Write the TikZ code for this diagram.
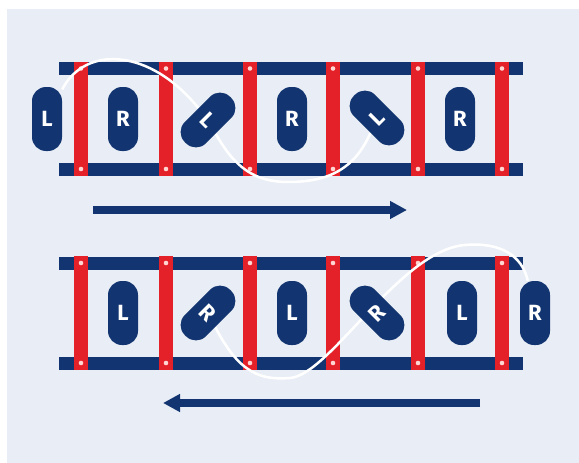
\documentclass[tikz,border=0pt]{standalone}
\usepackage{fontspec}
\setsansfont{Fira Sans}
\usetikzlibrary{shapes,arrows.meta,positioning,backgrounds}
\definecolor{navy}{RGB}{18,52,112}
\definecolor{rungred}{RGB}{228,32,40}
\definecolor{ice}{RGB}{233,238,246}
\definecolor{bolt}{RGB}{255,214,210}

\begin{document}
\begin{tikzpicture}[x=1pt, y=-1pt,
  rail/.style={navy, line width=13pt},
  rung/.style={rungred, line width=14pt},
  foot/.style={rectangle, rounded corners=14pt, fill=navy, inner sep=0pt, minimum width=30pt, minimum height=64pt, text=white, font=\fontsize{22}{22}\sffamily\bfseries},
  lace/.style={white, line width=2.5pt},
  walkarrow/.style={navy, line width=7.5pt, -{Triangle[length=17pt, width=17pt]}}]
\useasboundingbox (0,0) rectangle (579,463);

\node (upL1) [foot] at (47,119) {L};
\node (upR1) [foot] at (123,119) {R};
\node (upL2) [foot, rotate=-45] at (208,120) {L};
\node (upR2) [foot] at (292,119) {R};
\node (upL3) [foot, rotate=45] at (377,118) {L};
\node (upR3) [foot] at (460,119) {R};

\node (lowL1) [foot] at (123,313) {L};
\node (lowR1) [foot, rotate=-45] at (208,313) {R};
\node (lowL2) [foot] at (292,313) {L};
\node (lowR2) [foot, rotate=45] at (377,313) {R};
\node (lowL3) [foot] at (462,313) {L};
\node (lowR3) [foot] at (535,313) {R};

\coordinate (goFrom) at (93,210);
\coordinate (goTo) at (407,210);
\coordinate (backFrom) at (480,403);
\coordinate (backTo) at (163,403);
\draw [walkarrow] (goFrom) -- (goTo);
\draw [walkarrow] (backFrom) -- (backTo);

\begin{pgfonlayer}{background}
\fill [ice] (7,9) rectangle (579,463);
% ladders
\foreach \y in {68.5,169,263,363}
  \draw [rail] (59,\y) -- (523,\y);
\foreach \x in {81,166,250,333,418,502} {
  \draw [rung] (\x,62) -- (\x,176);
  \draw [rung] (\x,256) -- (\x,370);
  \foreach \y in {68.5,169,263,363}
    \fill [bolt] (\x,\y) circle (2.3pt);
}
% lace
\draw [lace] (upL1) .. controls (85,45) and (150,48) .. (upL2);
\draw [lace] (upL2) .. controls (235,168) and (255,182) .. (288,182)
  .. controls (330,182) and (355,168) .. (upL3);
\draw [lace] (lowR1) .. controls (240,375) and (262,380) .. (290,378)
  .. controls (330,375) and (400,250) .. (465,245)
  .. controls (500,242) and (522,255) .. (lowR3);
\end{pgfonlayer}
\end{tikzpicture}
\end{document}
